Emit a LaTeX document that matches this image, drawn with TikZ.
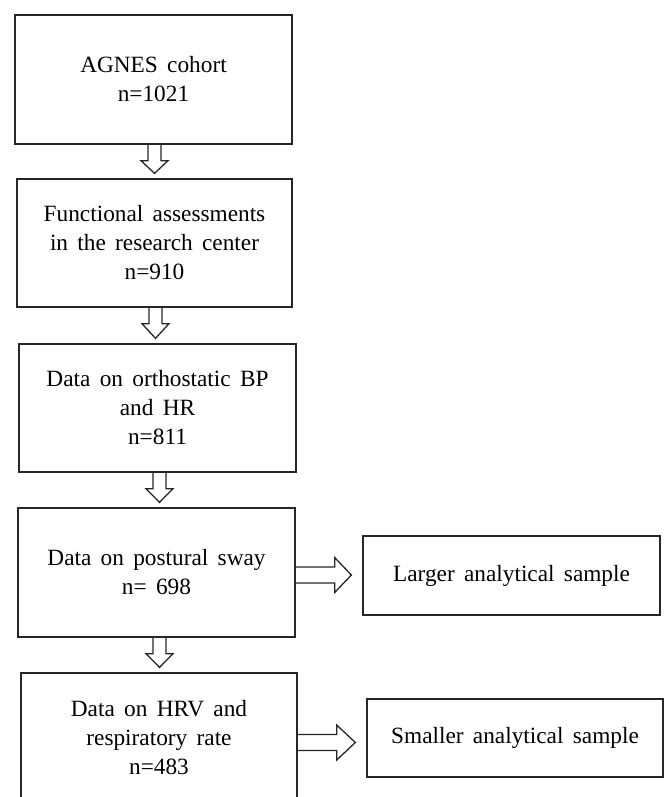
\documentclass[tikz,border=0pt]{standalone}
\usepackage{fontspec}
\setmainfont{Liberation Serif}
\usetikzlibrary{calc}
\newcommand\myboxfont{\fontsize{23.3}{29}\selectfont\spaceskip=9.3pt\relax}
\newcommand\downblock[3]{%
  \draw[barrow] ($(#1.south)+(#3-6.5,0)$) -- ($(#1.south)+(#3-6.5,16)$) -- ($(#1.south)+(#3-13.5,16)$)
    -- ($(#1.south |- #2.north)+(#3,-5)$) -- ($(#1.south)+(#3+13.5,16)$) -- ($(#1.south)+(#3+6.5,16)$)
    -- ($(#1.south)+(#3+6.5,0)$);}
\newcommand\rightblock[3]{%
  \draw[barrow] ($(#1.east |- #2.west)+(0,#3-8)$) -- ($(#1.east |- #2.west)+(39,#3-8)$)
    -- ($(#1.east |- #2.west)+(39,#3-17.5)$) -- ($(#2.west)+(-11,#3)$)
    -- ($(#1.east |- #2.west)+(39,#3+17.5)$) -- ($(#1.east |- #2.west)+(39,#3+8)$)
    -- ($(#1.east |- #2.west)+(0,#3+8)$);}
\begin{document}
\begin{tikzpicture}[x=1pt,y=-1pt,
  box/.style={draw=black!85, line width=1.3pt, align=center,
    font={\myboxfont}, inner sep=0pt},
  barrow/.style={draw=black!85, line width=1.3pt, line join=miter}]
\useasboundingbox (0,0) rectangle (667,797);
\node[box, minimum width=277, minimum height=129] (b1) at (153.5,79.5) {AGNES cohort\\n=1021};
\node[box, minimum width=275, minimum height=128] (b2) at (154.5,243) {Functional assessments\\in the research center\\n=910};
\node[box, minimum width=277, minimum height=128] (b3) at (157.5,408) {Data on orthostatic BP\\and HR\\n=811};
\node[box, minimum width=277, minimum height=129] (b4) at (156.5,572.5) {Data on postural sway\\n= 698};
\node[box, minimum width=276, minimum height=130] (b5) at (159,738) {Data on HRV and\\respiratory rate\\n=483};
\node[box, minimum width=297, minimum height=79] (lg) at (511.5,575.5) {Larger analytical sample};
\node[box, minimum width=296, minimum height=78] (sm) at (515,738) {Smaller analytical sample};
\downblock{b1}{b2}{1}
\downblock{b2}{b3}{1}
\downblock{b3}{b4}{2}
\downblock{b4}{b5}{3}
\rightblock{b4}{lg}{-0.5}
\rightblock{b5}{sm}{4.5}
\end{tikzpicture}
\end{document}
